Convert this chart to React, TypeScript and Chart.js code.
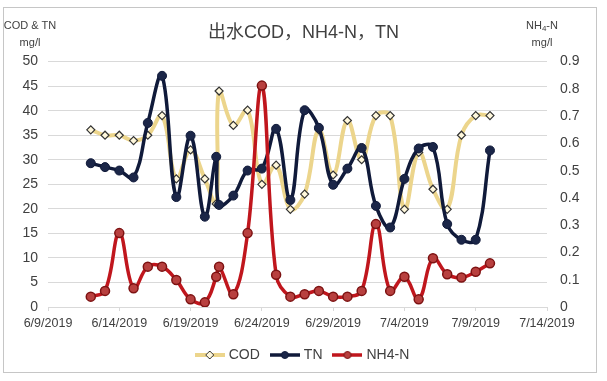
import { useEffect, useRef } from 'react';
import { Chart, registerables } from 'chart.js';

Chart.register(...registerables);

// ---- data ----
const chartTitle = '出水COD，NH4-N，TN';
const xTickLabels = ['6/9/2019', '6/14/2019', '6/19/2019', '6/24/2019', '6/29/2019', '7/4/2019', '7/9/2019', '7/14/2019'];
// sample times, in days after 6/9/2019
const sampleDays = [3, 4, 5, 6, 7, 8, 9, 10, 11, 11.8, 12, 13, 14, 15, 16, 17, 18, 19, 20, 21, 22, 23, 24, 25, 26, 27, 28, 29, 30, 31];
const codValues = [36.1, 35.0, 35.0, 33.9, 35.0, 39.0, 26.1, 32.0, 26.1, 21.0, 44.0, 37.0, 40.1, 25.0, 28.9, 19.9, 23.0, 36.1, 26.9, 38.0, 30.0, 39.0, 39.0, 19.9, 31.5, 24.0, 19.9, 35.0, 39.0, 39.0];
const tnValues = [29.3, 28.5, 27.8, 26.4, 37.5, 47.1, 22.4, 34.9, 18.4, 30.6, 20.8, 22.7, 27.8, 28.2, 36.3, 21.8, 40.1, 36.5, 24.9, 28.2, 32.4, 20.6, 16.2, 26.1, 32.3, 32.6, 16.9, 13.7, 13.7, 31.9];
const nh4Values = [0.038, 0.059, 0.271, 0.069, 0.148, 0.148, 0.099, 0.028, 0.017, 0.111, 0.148, 0.047, 0.271, 0.812, 0.118, 0.038, 0.047, 0.059, 0.038, 0.038, 0.059, 0.304, 0.059, 0.111, 0.028, 0.179, 0.120, 0.108, 0.129, 0.160];
const seriesNames = ['COD', 'TN', 'NH4-N'];
const leftAxisTitle = ['COD & TN', 'mg/l'];
const rightAxisUnit = 'mg/l';

const FONT = '"Liberation Sans", Arial, "Noto Sans CJK SC", sans-serif';

const COD_LINE = '#ecd58c';
const TN_LINE = '#101a3a';
const NH4_LINE = '#c0161d';

function makeIcon(line: string, lineW: number, marker: 'diamond' | 'circle', fill: string, stroke: string) {
  const c = document.createElement('canvas');
  c.width = 30;
  c.height = 12;
  const g = c.getContext('2d')!;
  g.strokeStyle = line;
  g.lineWidth = lineW;
  g.beginPath();
  g.moveTo(0, 6);
  g.lineTo(30, 6);
  g.stroke();
  g.fillStyle = fill;
  g.strokeStyle = stroke;
  g.lineWidth = 1;
  g.beginPath();
  if (marker === 'diamond') {
    g.moveTo(15, 2);
    g.lineTo(19, 6);
    g.lineTo(15, 10);
    g.lineTo(11, 6);
    g.closePath();
  } else {
    g.arc(15, 6, 3.5, 0, Math.PI * 2);
  }
  g.fill();
  g.stroke();
  return c;
}

const decorPlugin = {
  id: 'decor',
  beforeDraw(chart: any) {
    const ctx = chart.ctx;
    ctx.save();
    ctx.fillStyle = '#ffffff';
    ctx.fillRect(0, 0, chart.width, chart.height);
    ctx.strokeStyle = '#c6c6c6';
    ctx.lineWidth = 1;
    ctx.strokeRect(3.5, 7.5, 593, 365);
    ctx.restore();
  },
  afterDraw(chart: any) {
    const ctx = chart.ctx;
    ctx.save();
    ctx.fillStyle = '#404040';
    ctx.textAlign = 'center';
    ctx.textBaseline = 'middle';
    ctx.font = `11px ${FONT}`;
    ctx.fillText(leftAxisTitle[0], 30, 26);
    ctx.fillText(leftAxisTitle[1], 30, 43);
    // right axis: NH4-N with subscript 4
    const cx = 542;
    const a = 'NH';
    const b = '4';
    const c = '-N';
    ctx.font = `11px ${FONT}`;
    const wa = ctx.measureText(a).width;
    const wc = ctx.measureText(c).width;
    ctx.font = `8px ${FONT}`;
    const wb = ctx.measureText(b).width;
    const total = wa + wb + wc;
    let x = cx - total / 2;
    ctx.textAlign = 'left';
    ctx.font = `11px ${FONT}`;
    ctx.fillText(a, x, 26);
    x += wa;
    ctx.font = `8px ${FONT}`;
    ctx.fillText(b, x, 29);
    x += wb;
    ctx.font = `11px ${FONT}`;
    ctx.fillText(c, x, 26);
    ctx.textAlign = 'center';
    ctx.fillText(rightAxisUnit, cx, 43);
    ctx.restore();
  },
};

export default function App() {
  const ref = useRef<HTMLCanvasElement>(null);

  useEffect(() => {
    if (!ref.current) return;
    const icons = [
      makeIcon(COD_LINE, 4, 'diamond', '#fff8dc', '#333333'),
      makeIcon(TN_LINE, 3.5, 'circle', '#1b2648', TN_LINE),
      makeIcon(NH4_LINE, 3.5, 'circle', '#b8403f', '#7d1212'),
    ];
    const toPts = (vals: number[]) => sampleDays.map((d, i) => ({ x: d, y: vals[i] }));
    const chart = new Chart(ref.current, {
      type: 'line',
      data: {
        datasets: [
          {
            label: seriesNames[0],
            data: toPts(codValues),
            yAxisID: 'y',
            borderColor: COD_LINE,
            borderWidth: 4,
            tension: 0.4,
            pointStyle: 'rectRot',
            pointRadius: 4,
            pointBackgroundColor: '#fff8dc',
            pointBorderColor: '#333333',
            pointBorderWidth: 1.2,
            order: 3,
          },
          {
            label: seriesNames[1],
            data: toPts(tnValues),
            yAxisID: 'y',
            borderColor: TN_LINE,
            borderWidth: 3.5,
            tension: 0.4,
            pointStyle: 'circle',
            pointRadius: 4.5,
            pointBackgroundColor: '#1b2648',
            pointBorderColor: TN_LINE,
            pointBorderWidth: 1,
            order: 2,
          },
          {
            label: seriesNames[2],
            data: toPts(nh4Values),
            yAxisID: 'y1',
            borderColor: NH4_LINE,
            borderWidth: 3.5,
            tension: 0.4,
            pointStyle: 'circle',
            pointRadius: 4.5,
            pointBackgroundColor: '#b8403f',
            pointBorderColor: '#7d1212',
            pointBorderWidth: 1.5,
            order: 1,
          },
        ],
      },
      options: {
        responsive: false,
        animation: false,
        layout: { padding: { top: 8, bottom: 9, left: 0, right: 0 } },
        plugins: {
          title: {
            display: true,
            text: chartTitle,
            color: '#404040',
            font: { family: FONT, size: 18, weight: 'normal' },
            padding: { top: 14, bottom: 18 },
          },
          legend: {
            position: 'bottom',
            labels: {
              usePointStyle: true,
              pointStyleWidth: 24,
              padding: 13,
              color: '#404040',
              font: { family: FONT, size: 14 },
              sort: (a: any, b: any) => a.datasetIndex - b.datasetIndex,
              generateLabels: (ch: any) =>
                ch.data.datasets.map((ds: any, i: number) => ({
                  text: ds.label,
                  pointStyle: icons[i],
                  datasetIndex: i,
                  fillStyle: 'transparent',
                  strokeStyle: 'transparent',
                  lineWidth: 0,
                  hidden: false,
                  fontColor: '#404040',
                })),
            },
          },
          tooltip: { enabled: false },
        },
        scales: {
          x: {
            type: 'linear',
            min: 0,
            max: 35,
            afterFit: (s: any) => {
              s.height = 28;
            },
            grid: { drawOnChartArea: false, drawTicks: true, tickLength: 4, color: '#d9d9d9' },
            border: { color: '#d9d9d9' },
            ticks: {
              stepSize: 5,
              autoSkip: false,
              maxRotation: 0,
              padding: 5,
              color: '#404040',
              font: { family: FONT, size: 12.5 },
              callback: (v: any) => xTickLabels[Math.round(Number(v) / 5)] ?? '',
            },
          },
          y: {
            position: 'left',
            min: 0,
            max: 50,
            afterFit: (s: any) => {
              s.width = 48;
            },
            grid: { color: '#d9d9d9', drawTicks: false },
            border: { display: false },
            ticks: {
              stepSize: 5,
              padding: 10,
              color: '#404040',
              font: { family: FONT, size: 14 },
            },
          },
          y1: {
            position: 'right',
            min: 0,
            max: 0.9,
            afterFit: (s: any) => {
              s.width = 60;
            },
            grid: { display: false, drawOnChartArea: false, drawTicks: false },
            border: { display: false },
            ticks: {
              stepSize: 0.1,
              padding: 13,
              color: '#404040',
              font: { family: FONT, size: 14 },
              callback: (v: any) => (Number(v) === 0 ? '0' : Number(v).toFixed(1)),
            },
          },
        },
      },
      plugins: [decorPlugin],
    });
    return () => chart.destroy();
  }, []);

  return (
    <div style={{ position: 'fixed', left: 0, top: 0, width: 607, height: 381, background: '#fff' }}>
      <canvas ref={ref} width={607} height={381} style={{ width: 607, height: 381, display: 'block' }} />
    </div>
  );
}
